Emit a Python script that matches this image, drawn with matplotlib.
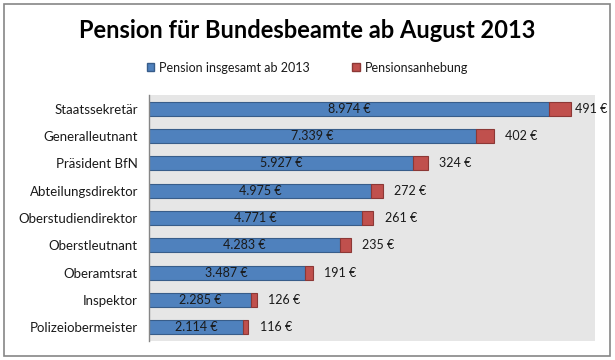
import matplotlib.pyplot as plt
from matplotlib.patches import Patch, Rectangle

plt.rcParams['font.family'] = ['Lato', 'DejaVu Sans']

categories = ['Staatssekretär', 'Generalleutnant', 'Präsident BfN', 'Abteilungsdirektor',
              'Oberstudiendirektor', 'Oberstleutnant', 'Oberamtsrat', 'Inspektor',
              'Polizeiobermeister']
pension = [8974, 7339, 5927, 4975, 4771, 4283, 3487, 2285, 2114]
anhebung = [491, 402, 324, 272, 261, 235, 191, 126, 116]
series_names = ['Pension insgesamt ab 2013', 'Pensionsanhebung']

blue, blue_edge = '#4F81BD', '#385D8A'
red, red_edge = '#C0504D', '#8C3836'
txt = '#1a1a1a'


def euro(v):
    return f'{v:,}'.replace(',', '.') + ' €'


fig = plt.figure(figsize=(6.15, 3.6), dpi=100)
fig.patches.append(Rectangle((0.006, 0.011), 0.986, 0.978, transform=fig.transFigure,
                             fill=False, edgecolor='#868686', linewidth=1.2))

ax = fig.add_axes([0.2423, 0.0528, 0.7252, 0.6833])
ax.set_facecolor('#E6E6E6')

y = list(range(len(categories)))
ax.barh(y, pension, height=0.52, color=blue, edgecolor=blue_edge, linewidth=0.8)
ax.barh(y, anhebung, left=pension, height=0.52, color=red, edgecolor=red_edge, linewidth=0.8)

ax.set_xlim(0, 10000)
ax.set_ylim(len(categories) - 0.5, -0.5)

for i, (p, a) in enumerate(zip(pension, anhebung)):
    ax.text(p / 2, i, euro(p), ha='center', va='center', fontsize=9, color=txt)
    pad = 3 if p + a > 9000 else 8
    ax.annotate(euro(a), xy=(p + a, i), xytext=(pad, 0), textcoords='offset points',
                ha='left', va='center', fontsize=9, color=txt)

ax.set_yticks(y)
ax.set_yticklabels(categories, fontsize=9.5, color=txt)
ax.tick_params(axis='y', length=0, pad=8)
ax.set_xticks([])
for s in ['top', 'right', 'bottom']:
    ax.spines[s].set_visible(False)
ax.spines['left'].set_color('#868686')
ax.spines['left'].set_linewidth(1)

fig.text(0.5, 0.915, 'Pension für Bundesbeamte ab August 2013', ha='center', va='center',
         fontsize=17, fontweight='bold', color='black')

handles = [Patch(facecolor=blue, edgecolor=blue_edge), Patch(facecolor=red, edgecolor=red_edge)]
fig.legend(handles, series_names, loc='center', bbox_to_anchor=(0.5, 0.812), ncol=2,
           frameon=False, fontsize=9, handlelength=0.6, handleheight=0.6,
           handletextpad=0.4, columnspacing=3.4, labelcolor=txt)

fig.savefig('out.png', dpi=100)
